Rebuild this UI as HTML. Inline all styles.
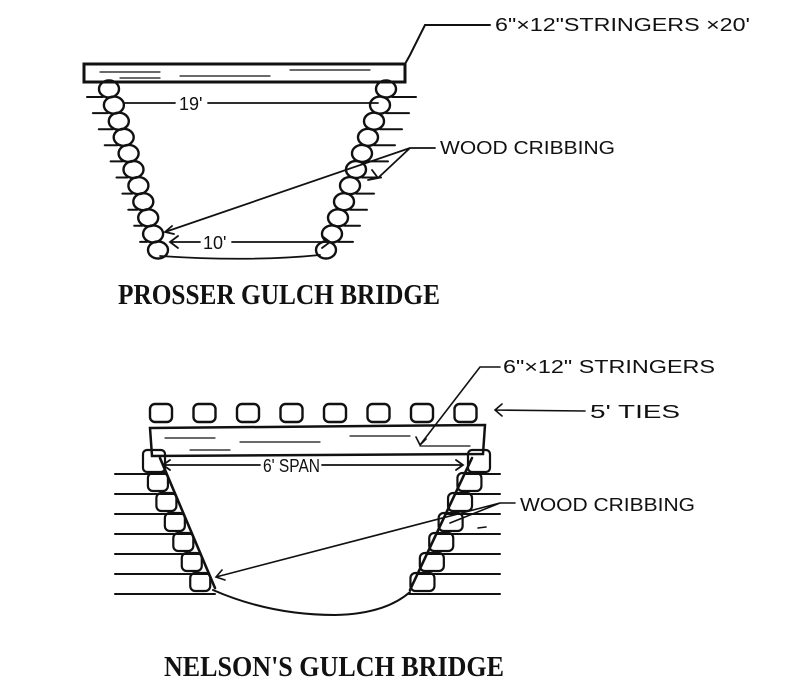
<!DOCTYPE html>
<html><head><meta charset="utf-8"><style>
html,body{margin:0;padding:0;background:#fff;width:800px;height:698px;overflow:hidden}
svg{display:block}
text{stroke:none}
.h{font-family:"Liberation Sans",sans-serif;font-size:18px;fill:#111}
.t{font-family:"Liberation Serif",serif;font-weight:bold;font-size:28px;fill:#111}
</style></head><body>
<svg id="s" width="800" height="698" viewBox="0 0 800 698" xmlns="http://www.w3.org/2000/svg" fill="none" stroke="#111" stroke-width="2.2" stroke-linecap="round">
<!-- TOP BRIDGE -->
<rect x="84" y="64" width="321" height="18" stroke-width="3"/>
<path d="M100 72 h60 M180 76 h90 M290 70 h80 M120 78 h40" stroke-width="1.2"/>
<path d="M405 64 L410 55 L425 25 L490 25" stroke-width="2"/>
<text class="h" x="495" y="31" textLength="255" lengthAdjust="spacingAndGlyphs">6"×12"STRINGERS ×20'</text>
<g id="crib1"></g>
<path d="M125 103 L175 103 M208 103 L378 103" stroke-width="1.8"/>
<text class="h" x="179" y="110" font-size="20">19'</text>
<path d="M170 242 L200 242 M232 242 L330 242 M322 236 L330 242 L322 248 M178 236 L170 242 L178 248" stroke-width="1.8"/>
<text class="h" x="203" y="249" font-size="20">10'</text>
<path d="M160 256 Q250 262 320 255" stroke-width="1.8"/>
<text class="h" x="440" y="154" textLength="175" lengthAdjust="spacingAndGlyphs">WOOD CRIBBING</text>
<path d="M435 148 L410 148 L378 178 M410 148 L165 232 M372 170 L378 178 L368 180 M172 226 L165 232 L174 234" stroke-width="1.8"/>
<text class="t" x="118" y="304" textLength="322" lengthAdjust="spacingAndGlyphs">PROSSER GULCH BRIDGE</text>

<!-- BOTTOM BRIDGE -->
<g id="ties"></g>
<path d="M150 428 L485 425 L483 454 L152 456 Z" stroke-width="2.5"/>
<path d="M165 438 h50 M240 442 h80 M350 436 h60 M420 446 h50 M190 450 h40" stroke-width="1.2"/>
<path d="M160 458 L215 588 M472 458 L410 590" stroke-width="2.6"/>
<g id="crib2"></g>
<path d="M213 590 Q270 615 335 615 Q385 614 410 592" stroke-width="2"/>
<path d="M163 465 L260 465 M322 465 L463 465 M170 460 L163 465 L170 470 M456 460 L463 465 L456 470" stroke-width="1.8"/>
<text class="h" x="263" y="472" textLength="57" lengthAdjust="spacingAndGlyphs">6' SPAN</text>
<text class="h" x="503" y="373" textLength="212" lengthAdjust="spacingAndGlyphs">6"×12" STRINGERS</text>
<path d="M500 367 L480 367 L420 445 M416 437 L420 445 L426 439" stroke-width="1.6"/>
<text class="h" x="590" y="418" textLength="90" lengthAdjust="spacingAndGlyphs">5' TIES</text>
<path d="M585 411 L495 410 M502 404 L495 410 L502 416" stroke-width="1.6"/>
<text class="h" x="520" y="511" textLength="175" lengthAdjust="spacingAndGlyphs">WOOD CRIBBING</text>
<path d="M515 503 L500 503 L450 523 M500 503 L216 577 M478 528 L486 527 M222 570 L216 577 L225 580" stroke-width="1.6"/>
<text class="t" x="164" y="676" textLength="340" lengthAdjust="spacingAndGlyphs">NELSON'S GULCH BRIDGE</text>
</svg>
<script>
var NS="http://www.w3.org/2000/svg";
function el(p,t,a){var e=document.createElementNS(NS,t);for(var k in a)e.setAttribute(k,a[k]);p.appendChild(e);return e;}
var c1=document.getElementById("crib1");
for(var i=0;i<11;i++){
 var y=89+i*16.1;
 var xl=109+i*4.9, xr=386-i*6;
 el(c1,"ellipse",{cx:xl,cy:y,rx:10,ry:8.5,"stroke-width":2.4});
 el(c1,"ellipse",{cx:xr,cy:y,rx:10,ry:8.5,"stroke-width":2.4});
 if(i<10){
  el(c1,"line",{x1:xl-22+i*1,y1:y+8,x2:xl-6,y2:y+8,"stroke-width":2});
  el(c1,"line",{x1:xr+6,y1:y+8,x2:xr+30-i*1,y2:y+8,"stroke-width":2});
 }
}
var ti=document.getElementById("ties");
for(var j=0;j<8;j++){
 var x=150+j*43.5;
 el(ti,"rect",{x:x,y:404,width:22,height:18,rx:5,"stroke-width":2.4});
}
var c2=document.getElementById("crib2");
var ys=[474,494,514,534,554,574,594];
for(var k=0;k<7;k++){
 var y2=ys[k];
 var xl2=160+(y2-460)*55/130, xr2=472-(y2-460)*62/132;
 el(c2,"line",{x1:115,y1:y2,x2:Math.min(xl2,215),y2:y2,"stroke-width":2});
 el(c2,"line",{x1:Math.max(xr2,400),y1:y2,x2:500,y2:y2,"stroke-width":2});
 if(k<6){
  el(c2,"rect",{x:xl2-18,y:y2-1,width:20,height:18,rx:5,"stroke-width":2.2});
  el(c2,"rect",{x:xr2-8,y:y2-1,width:24,height:18,rx:5,"stroke-width":2.2});
 }
}
el(c2,"rect",{x:143,y:450,width:22,height:22,rx:4,"stroke-width":2.2});
el(c2,"rect",{x:468,y:450,width:22,height:22,rx:4,"stroke-width":2.2});
</script>
</body></html>
